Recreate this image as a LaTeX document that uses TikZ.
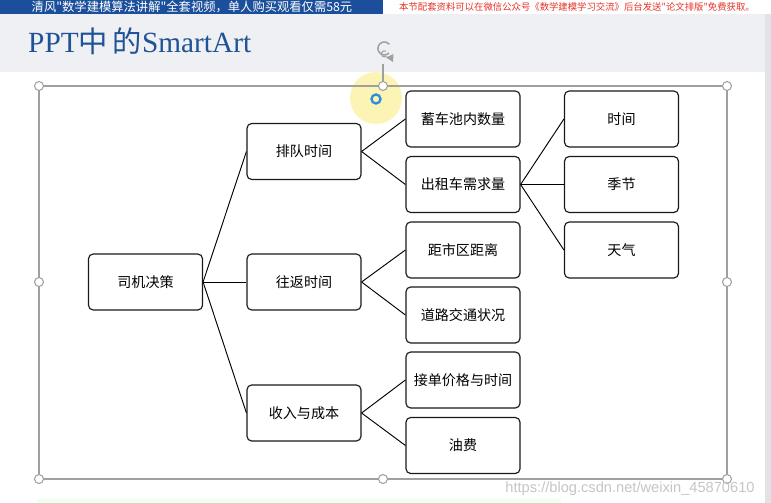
\documentclass[tikz,border=0pt]{standalone}
\usepackage{fontspec}
\setmainfont{Liberation Serif}
\newfontfamily\cjk{Noto Sans CJK SC}
\newfontfamily\urlfont{Liberation Sans}
\usetikzlibrary{calc}

\definecolor{bannerblue}{HTML}{1B4F9C}
\definecolor{titleblue}{HTML}{1F5296}
\definecolor{headgray}{HTML}{EEF0F3}
\definecolor{edgegray}{HTML}{E2E3E7}
\definecolor{handlegray}{HTML}{A0A0A0}
\definecolor{glow}{HTML}{FBF3A8}
\definecolor{ringblue}{HTML}{2B8DE0}
\definecolor{notered}{HTML}{E8332A}

\tikzset{
  box/.style={draw=black!90, line width=1pt, rounded corners=4pt, fill=white,
    minimum width=3.42cm, minimum height=1.68cm, inner sep=0pt,
    font=\cjk\fontsize{12}{14}\selectfont},
  link/.style={black, line width=0.8pt},
  handle/.style={draw=handlegray, fill=white, line width=0.9pt},
}

\begin{document}
\begin{tikzpicture}[x=0.03cm, y=-0.03cm]
    \useasboundingbox (0,0) rectangle (771,503);
    % slide background
    \fill[white] (0,0) rectangle (771,503);
    \fill[headgray] (0,14) rectangle (771,72);
    \fill[edgegray] (765,14) rectangle (771,503);
    \fill[green!7] (37,499) rectangle (561,503);
    % banner
    \fill[bannerblue] (0,0) rectangle (383,14);
    \begin{scope}
        \clip (0,0) rectangle (383,14);
        \node[text=white, font=\cjk\fontsize{10.5}{12}\selectfont] (ad) at (192,6.5)
            {清风"数学建模算法讲解"全套视频，单人购买观看仅需58元};
    \end{scope}
    \node[text=notered, font=\cjk\fontsize{8}{10}\selectfont] (note) at (577,7)
        {本节配套资料可以在微信公众号《数学建模学习交流》后台发送"论文排版"免费获取。};
    \node[anchor=base west, inner sep=0pt, text=titleblue, font=\fontsize{25}{29}\selectfont] (title) at (28,53)
        {PPT{\cjk 中\,的}SmartArt};

    % selection frame of the SmartArt
    \fill[glow, opacity=0.85] (376,98) circle (26);
    \draw[handlegray, line width=0.9pt] (39,86) rectangle (727,479);
    \draw[handlegray, line width=0.9pt] (383,86) -- (383,64);
    \draw[handlegray, line width=1.3pt] (389,53) arc (45:320:6.5);
    \draw[handlegray, line width=0.9pt] (386.5,56) arc (45:300:3);
    \fill[handlegray] (386,57.5) -- (393,62) -- (393.5,54) -- cycle;
    \foreach \p in {(39,86),(383,86),(727,86),(39,282),(727,282),(39,479),(383,479),(727,479)}
        {\filldraw[handle] \p circle (4.5);}
    \draw[ringblue, line width=2pt] (376,99) circle (4.5);

    % boxes
    \node[box] (decision) at (145.5,282) {司机决策};
    \node[box] (queue)  at (304,151.5) {排队时间};
    \node[box] (trip)   at (304,282)   {往返时间};
    \node[box] (income) at (304,413)   {收入与成本};
    \node[box] (pool)     at (463,119)   {蓄车池内数量};
    \node[box] (demand)   at (463,184.5) {出租车需求量};
    \node[box] (distance) at (463,250)   {距市区距离};
    \node[box] (traffic)  at (463,315)   {道路交通状况};
    \node[box] (price)    at (463,380)   {接单价格与时间};
    \node[box] (fuel)     at (463,445.5) {油费};
    \node[box] (hour)    at (621.5,119)   {时间};
    \node[box] (season)  at (621.5,184.5) {季节};
    \node[box] (weather) at (621.5,250)   {天气};

    % links
    \foreach \a/\b in {decision/queue, decision/trip, decision/income,
        queue/pool, queue/demand, trip/distance, trip/traffic,
        income/price, income/fuel, demand/hour, demand/season, demand/weather}
        {\draw[link] (\a.east) -- (\b.west);}

    \node[text=gray!45, font=\urlfont\fontsize{12.5}{14}\selectfont] (mark) at (630,489)
        {https://blog.csdn.net/weixin\_45870610};
\end{tikzpicture}
\end{document}
